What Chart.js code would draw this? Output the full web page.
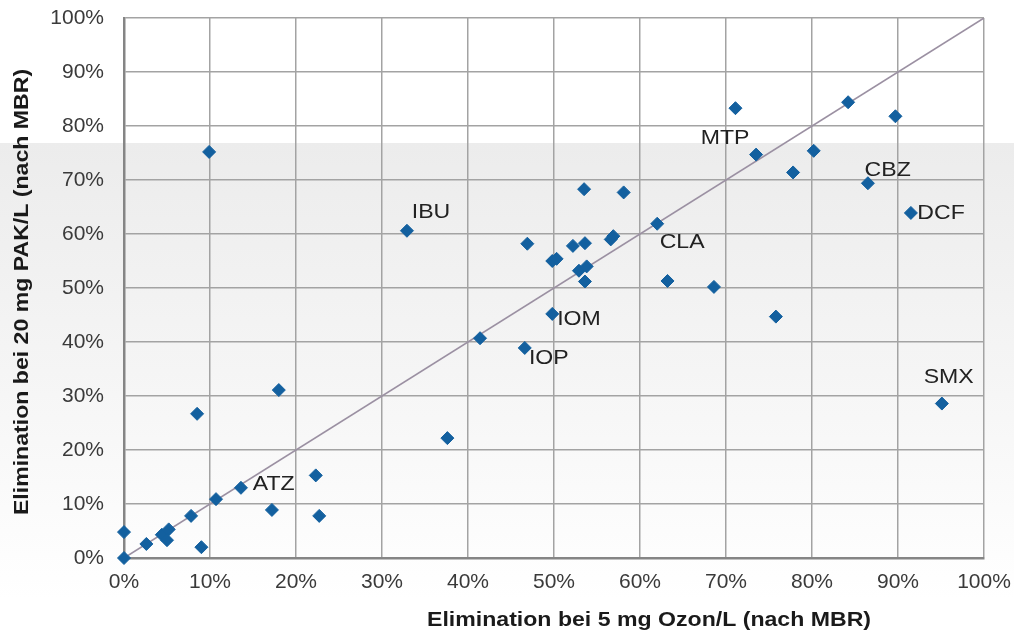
<!DOCTYPE html>
<html>
<head>
<meta charset="utf-8">
<script src="https://cdn.jsdelivr.net/npm/chart.js@4"></script>
<style>
  html, body { margin: 0; padding: 0; background: #fff; }
  #wrap { width: 1014px; height: 634px; }
</style>
</head>
<body>
<div id="wrap"><canvas id="chart" width="1014" height="634"></canvas></div>
<script>
// ==========================
// Data (percent)
// ==========================
const ozonElim = [0, 0, 2.6, 4.4, 5.2, 5.0, 9.0, 7.8, 10.7, 13.6, 8.5, 9.9, 17.2, 18.0, 22.3, 22.7,
  32.9, 37.6, 41.4, 46.6, 49.8, 46.9, 49.8, 50.3, 52.2, 53.6, 52.9, 53.8, 53.6, 53.5, 58.1, 56.6,
  56.9, 62.0, 63.2, 68.6, 71.1, 73.5, 77.8, 75.8, 80.2, 84.2, 86.5, 89.7, 91.5, 95.1];
const pakElim = [0, 4.8, 2.6, 4.3, 5.3, 3.3, 2.0, 7.8, 10.9, 13.0, 26.7, 75.2, 8.9, 31.1, 15.3, 7.8,
  60.6, 22.2, 40.7, 38.9, 45.2, 58.2, 55.0, 55.4, 57.8, 58.3, 53.2, 54.0, 51.2, 68.3, 67.7, 59.0,
  59.6, 61.9, 51.3, 50.2, 83.3, 74.7, 71.4, 44.7, 75.4, 84.4, 69.4, 81.8, 63.9, 28.6];

// substance labels, placed in data units
const labelNames = ["IBU", "MTP", "CBZ", "DCF", "CLA", "IOM", "IOP", "SMX", "ATZ"];
const labelX = [35.7, 69.9, 88.8, 95.0, 64.9, 52.9, 49.4, 95.9, 17.4];
const labelY = [64.1, 77.8, 71.9, 63.9, 58.5, 44.3, 37.0, 33.5, 13.7];

const tickValues = [0, 10, 20, 30, 40, 50, 60, 70, 80, 90, 100];
const xTitle = "Elimination bei 5 mg Ozon/L (nach MBR)";
const yTitle = "Elimination bei 20 mg PAK/L (nach MBR)";

const FONT = "'Liberation Sans', Arial, Helvetica, sans-serif";

// ==========================
// Plugins
// ==========================
const bgPlugin = {
  id: "bg",
  beforeDraw(chart) {
    const ctx = chart.ctx;
    ctx.save();
    ctx.fillStyle = "#ffffff";
    ctx.fillRect(0, 0, chart.width, chart.height);
    const g = ctx.createLinearGradient(0, 143, 0, 600);
    g.addColorStop(0, "#ececec");
    g.addColorStop(0.5, "#f5f5f5");
    g.addColorStop(1, "#ffffff");
    ctx.fillStyle = g;
    ctx.fillRect(0, 143, chart.width, chart.height - 143);
    ctx.restore();
  }
};

// the original text is a bit wide, so stretch it horizontally
function wideText(ctx, text, x, y, stretch) {
  ctx.save();
  ctx.translate(x, y);
  ctx.scale(stretch, 1);
  ctx.fillText(text, 0, 0);
  ctx.restore();
}

const textPlugin = {
  id: "texts",
  afterDatasetsDraw(chart) {
    const ctx = chart.ctx;
    const xs = chart.scales.x, ys = chart.scales.y;
    ctx.save();
    ctx.fillStyle = "#222";
    ctx.font = "21px " + FONT;
    ctx.textAlign = "center";
    ctx.textBaseline = "middle";
    labelNames.forEach((name, i) => {
      wideText(ctx, name, xs.getPixelForValue(labelX[i]), ys.getPixelForValue(labelY[i]), 1.1);
    });
    ctx.restore();
  },
  afterDraw(chart) {
    const ctx = chart.ctx;
    ctx.save();
    ctx.fillStyle = "#1a1a1a";
    ctx.font = "bold 21px " + FONT;
    ctx.textAlign = "center";
    ctx.textBaseline = "middle";
    wideText(ctx, xTitle, 649, 620, 1.1);
    ctx.translate(22, 292);
    ctx.rotate(-Math.PI / 2);
    wideText(ctx, yTitle, 0, 0, 1.1);
    ctx.restore();
  }
};

// ==========================
// Chart
// ==========================
const axis = (fit) => ({
  type: "linear",
  min: 0,
  max: 100,
  afterBuildTicks: s => { s.ticks = tickValues.map(v => ({ value: v })); },
  afterFit: fit,
  ticks: {
    callback: v => v + "%",
    color: "#3a3a3a",
    font: { family: FONT, size: 21 },
    maxRotation: 0,
    autoSkip: false
  },
  grid: { color: "#a3a3a3", lineWidth: 1.5, drawTicks: false },
  border: { color: "#858585", width: 2.5 }
});

// fixed axis sizes, label overflow ignored so the plot area matches the original
const xAxis = axis(s => { s.height = 76; s.paddingLeft = 0; s.paddingRight = 0; });
xAxis.ticks.padding = 12;
const yAxis = axis(s => { s.width = 124; s.paddingTop = 0; s.paddingBottom = 0; });
yAxis.ticks.padding = 20;

new Chart(document.getElementById("chart"), {
  type: "scatter",
  data: {
    datasets: [
      {
        label: "Substanzen",
        data: ozonElim.map((x, i) => ({ x: x, y: pakElim[i] })),
        pointStyle: "rectRot",
        pointRadius: 6.5,
        pointHoverRadius: 6.5,
        backgroundColor: "#13609f",
        borderColor: "#13609f",
        borderWidth: 1,
        clip: false,
        order: 1
      },
      {
        type: "line",
        label: "1:1",
        data: [{ x: 0, y: 0 }, { x: 100, y: 100 }],
        borderColor: "#9b90a2",
        borderWidth: 1.6,
        pointRadius: 0,
        fill: false,
        order: 2
      }
    ]
  },
  options: {
    responsive: false,
    animation: false,
    layout: { padding: { left: 0, top: 18, right: 30, bottom: 0 } },
    plugins: { legend: { display: false }, tooltip: { enabled: false } },
    scales: { x: xAxis, y: yAxis }
  },
  plugins: [bgPlugin, textPlugin]
});
</script>
</body>
</html>
